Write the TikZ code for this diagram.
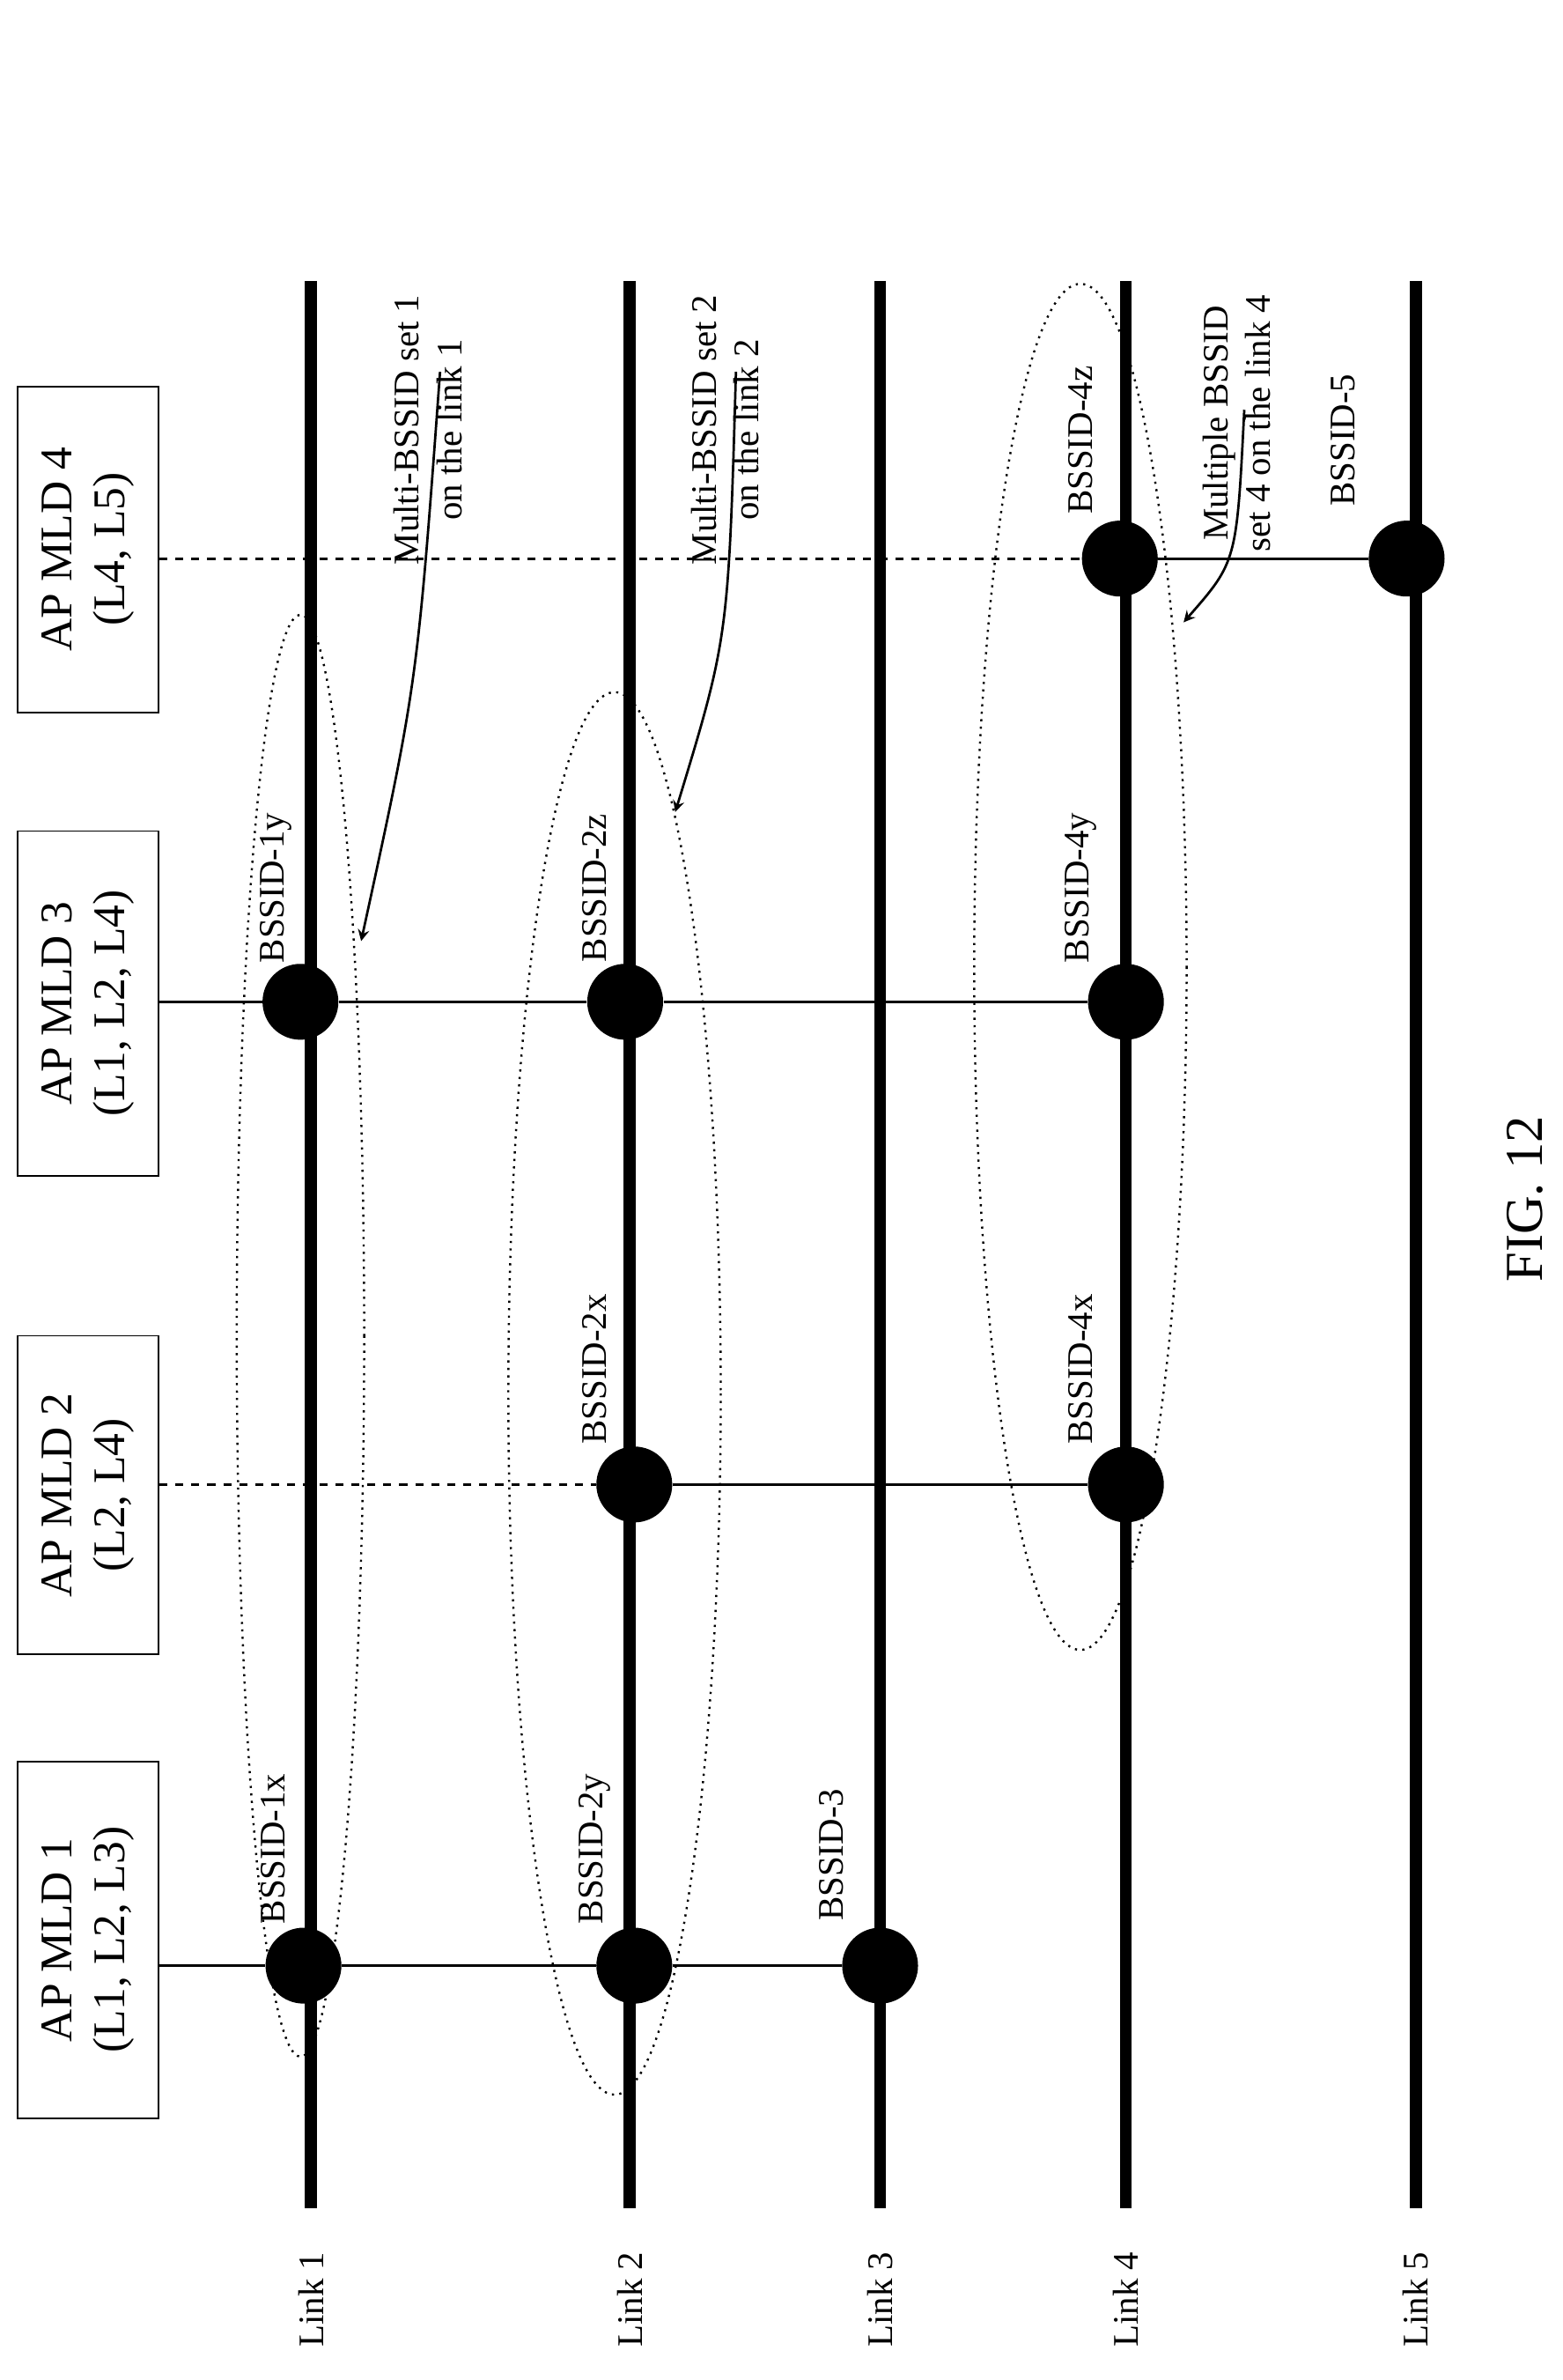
\documentclass[tikz,border=0pt]{standalone}
\usepackage{fontspec}
\setmainfont{Liberation Serif}
\usetikzlibrary{arrows}

\tikzset{
	linkline/.style={line width=4.5pt},
	bss/.style={circle, fill=black, minimum size=1cm, inner sep=0pt},
	lbl/.style={rotate=90, font=\fontsize{13.5}{16}\selectfont},
	mldbox/.style={draw, semithick, rotate=90, minimum width=4.4cm, minimum height=1.86cm, align=center, font=\fontsize{17}{20}\selectfont},
	bssset/.style={dotted, line width=0.8pt},
	mldline/.style={line width=0.9pt},
}

\begin{document}
\begin{tikzpicture}[x=0.02cm, y=-0.02cm, >=stealth]
	\useasboundingbox (0, 0) rectangle (1030, 1568);

	% links
	\foreach \n/\x in {1/205, 2/415, 3/580, 4/742, 5/933} {
		\coordinate (top\n) at (\x, 185);
		\coordinate (bot\n) at (\x, 1455);
		\draw[linkline] (top\n) -- (bot\n);
		\node[lbl] (link\n) at (\x, 1515) {Link \n};
	}

	% AP MLDs
	\node[mldbox, minimum width=4.7cm] (mld1) at (58, 1278) {AP MLD 1\\(L1, L2, L3)};
	\node[mldbox, minimum width=4.2cm] (mld2) at (58, 985) {AP MLD 2\\(L2, L4)};
	\node[mldbox, minimum width=4.54cm] (mld3) at (58, 661) {AP MLD 3\\(L1, L2, L4)};
	\node[mldbox, minimum width=4.3cm] (mld4) at (58, 362) {AP MLD 4\\(L4, L5)};

	% BSSIDs
	\node[bss] (b1x) at (200, 1295) {};
	\node[bss] (b2y) at (418, 1295) {};
	\node[bss] (b3) at (580, 1295) {};
	\node[bss] (b2x) at (418, 978) {};
	\node[bss] (b4x) at (742, 978) {};
	\node[bss] (b1y) at (198, 660) {};
	\node[bss] (b2z) at (412, 660) {};
	\node[bss] (b4y) at (742, 660) {};
	\node[bss] (b4z) at (738, 368) {};
	\node[bss] (b5) at (927, 368) {};

	\draw[mldline] (mld1.south |- b1x) -- (b1x) -- (b2y) -- (b3);
	\draw[mldline, dashed] (mld2.south |- b2x) -- (b2x);
	\draw[mldline] (b2x) -- (b4x);
	\draw[mldline] (mld3.south |- b1y) -- (b1y) -- (b2z) -- (b4y);
	\draw[mldline, dashed] (mld4.south |- b4z) -- (b4z);
	\draw[mldline] (b4z) -- (b5);

	\node[lbl] at (180, 1218) {BSSID-1x};
	\node[lbl] at (392, 1218) {BSSID-2y};
	\node[lbl] at (548, 1222) {BSSID-3};
	\node[lbl] at (392, 902) {BSSID-2x};
	\node[lbl] at (712, 902) {BSSID-4x};
	\node[lbl] at (182, 585) {BSSID-1y};
	\node[lbl] at (392, 585) {BSSID-2z};
	\node[lbl] at (712, 585) {BSSID-4y};
	\node[lbl] at (712, 290) {BSSID-4z};
	\node[lbl] at (885, 290) {BSSID-5};

	% multi-BSSID sets
	\draw[bssset] (198, 880) ellipse [x radius=42, y radius=475];
	\draw[bssset] (405, 918) ellipse [x radius=70, y radius=462];
	\draw[bssset] (712, 637) ellipse [x radius=70, y radius=450];

	\node[lbl, align=center, anchor=east] (set1) at (282, 188) {Multi-BSSID set 1\\on the link 1};
	\node[lbl, align=center, anchor=east] (set2) at (478, 188) {Multi-BSSID set 2\\on the link 2};
	\node[lbl, align=center, anchor=east] (set4) at (815, 188) {Multiple BSSID\\set 4 on the link 4};
	\draw[mldline, ->] (290, 245) .. controls (275, 450) .. (238, 620);
	\draw[mldline, ->] (485, 245) .. controls (480, 420) .. (445, 535);
	\draw[mldline, ->] (820, 270) .. controls (815, 370) .. (780, 410);

	\node[lbl, font=\fontsize{20}{24}\selectfont] (fig) at (1005, 790) {FIG. 12};
\end{tikzpicture}
\end{document}
